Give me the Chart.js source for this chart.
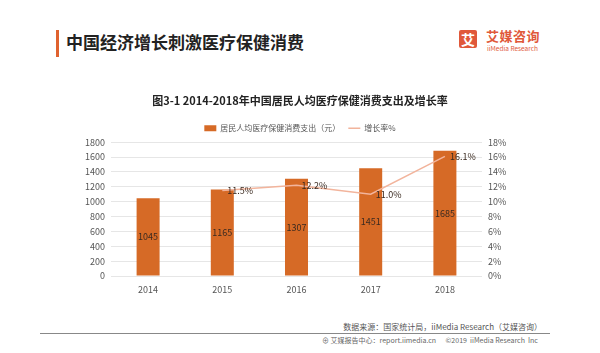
<!DOCTYPE html>
<html>
<head>
<meta charset="utf-8">
<script src="https://cdn.jsdelivr.net/npm/chart.js@4.4.1/dist/chart.umd.min.js"></script>
<style>
  body { margin: 0; width: 600px; height: 353px; background: #fff; position: relative; overflow: hidden;
         font-family: "Noto Sans CJK SC", "Noto Sans", sans-serif; }
  .hbar { position: absolute; left: 56px; top: 30px; width: 3px; height: 27px; background: #e0622f; }
  .htitle { position: absolute; left: 66px; top: 30px; font-size: 17px; font-weight: bold; color: #222; line-height: 24px; }
  .logo { position: absolute; left: 459px; top: 30px; width: 18px; height: 18px; background: #e0583a; border-radius: 2px;
          color: #fff; font-size: 14px; font-weight: bold; line-height: 18px; text-align: center; }
  .logo-cn { position: absolute; left: 486px; top: 28px; font-size: 13px; font-weight: bold; color: #e0583a; letter-spacing: 0.5px; line-height: 16px; }
  .logo-en { position: absolute; left: 487px; top: 44px; font-size: 6.5px; color: #e0583a; line-height: 8px; }
  #wrap { position: absolute; left: 60px; top: 90px; width: 480px; height: 212px; }
  .src { position: absolute; right: 58px; top: 322px; font-size: 8px; color: #555; line-height: 10px; }
  .rule { position: absolute; left: 40px; top: 333px; width: 510px; height: 1px; background: #888; }
  .copy { position: absolute; left: 322px; top: 336px; font-size: 7px; color: #666; line-height: 9px; white-space: pre; }
</style>
</head>
<body>
<div class="hbar"></div>
<div class="htitle">中国经济增长刺激医疗保健消费</div>
<div class="logo">艾</div>
<div class="logo-cn">艾媒咨询</div>
<div class="logo-en">iiMedia Research</div>
<div id="wrap"><canvas id="chart"></canvas></div>
<div class="src">数据来源：国家统计局，iiMedia Research（艾媒咨询）</div>
<div class="rule"></div>
<div class="copy">⊕ 艾媒报告中心：report.iimedia.cn      ©2019  iiMedia Research  Inc</div>

<script>
// Data
const years = ["2014", "2015", "2016", "2017", "2018"];
const spending = [1045, 1165, 1307, 1451, 1685];
const growth = [null, 11.5, 12.2, 11.0, 16.1];
const leftTicks = [0, 200, 400, 600, 800, 1000, 1200, 1400, 1600, 1800];
const rightTicks = [0, 2, 4, 6, 8, 10, 12, 14, 16, 18];

const CJK = "'Noto Sans CJK SC', 'Noto Sans', sans-serif";

// value labels on bars and line points
const labelPlugin = {
  id: "valueLabels",
  afterDatasetsDraw(chart) {
    const ctx = chart.ctx;
    ctx.save();
    ctx.font = "9px " + CJK;
    ctx.fillStyle = "#3a2a20";
    ctx.textBaseline = "middle";

    const barMeta = chart.getDatasetMeta(0);
    ctx.textAlign = "center";
    barMeta.data.forEach((bar, i) => {
      const mid = (bar.y + bar.base) / 2;
      ctx.fillText(spending[i], bar.x, mid);
    });

    const lineMeta = chart.getDatasetMeta(1);
    ctx.textAlign = "left";
    lineMeta.data.forEach((pt, i) => {
      if (growth[i] == null) return;
      ctx.fillText(growth[i].toFixed(1) + "%", pt.x + 5, pt.y);
    });
    ctx.restore();
  }
};

const ctx = document.getElementById("chart").getContext("2d");
new Chart(ctx, {
  type: "bar",
  data: {
    labels: years,
    datasets: [
      {
        label: "居民人均医疗保健消费支出（元）",
        data: spending,
        backgroundColor: "#d66a26",
        categoryPercentage: 1,
        barPercentage: 0.31,
        yAxisID: "y",
        pointStyle: "rect",
        order: 2
      },
      {
        type: "line",
        label: "增长率%",
        data: growth,
        borderColor: "#f2b49c",
        backgroundColor: "#f2b49c",
        borderWidth: 1.5,
        pointRadius: 0,
        pointStyle: "line",
        yAxisID: "y1",
        order: 1
      }
    ]
  },
  options: {
    responsive: true,
    maintainAspectRatio: false,
    animation: false,
    layout: { padding: 0 },
    plugins: {
      title: {
        display: true,
        text: "图3-1 2014-2018年中国居民人均医疗保健消费支出及增长率",
        color: "#222",
        font: { family: CJK, size: 11, weight: "bold" },
        padding: { top: 4, bottom: 9 }
      },
      legend: {
        position: "top",
        labels: {
          usePointStyle: true,
          pointStyleWidth: 12,
          boxHeight: 6,
          color: "#555",
          font: { family: CJK, size: 8 },
          padding: 8,
          sort: (a, b) => a.datasetIndex - b.datasetIndex
        }
      },
      tooltip: { enabled: false }
    },
    scales: {
      x: {
        grid: { display: false },
        border: { display: false },
        afterFit: s => { s.height = 26; },
        ticks: { color: "#555", font: { family: CJK, size: 9 }, padding: 0 }
      },
      y: {
        position: "left",
        min: 0,
        max: 1800,
        afterBuildTicks: s => { s.ticks = leftTicks.map(v => ({ value: v })); },
        afterFit: s => { s.width = 51; },
        grid: { color: "#e6e6e6", drawTicks: false },
        border: { display: false },
        ticks: { color: "#555", font: { family: CJK, size: 9 }, padding: 6, callback: v => String(v) }
      },
      y1: {
        position: "right",
        min: 0,
        max: 18,
        afterBuildTicks: s => { s.ticks = rightTicks.map(v => ({ value: v })); },
        afterFit: s => { s.width = 58; },
        grid: { display: false, drawTicks: false },
        border: { display: false },
        ticks: { color: "#555", font: { family: CJK, size: 9 }, padding: 6, callback: v => v + "%" }
      }
    }
  },
  plugins: [labelPlugin]
});
</script>
</body>
</html>
